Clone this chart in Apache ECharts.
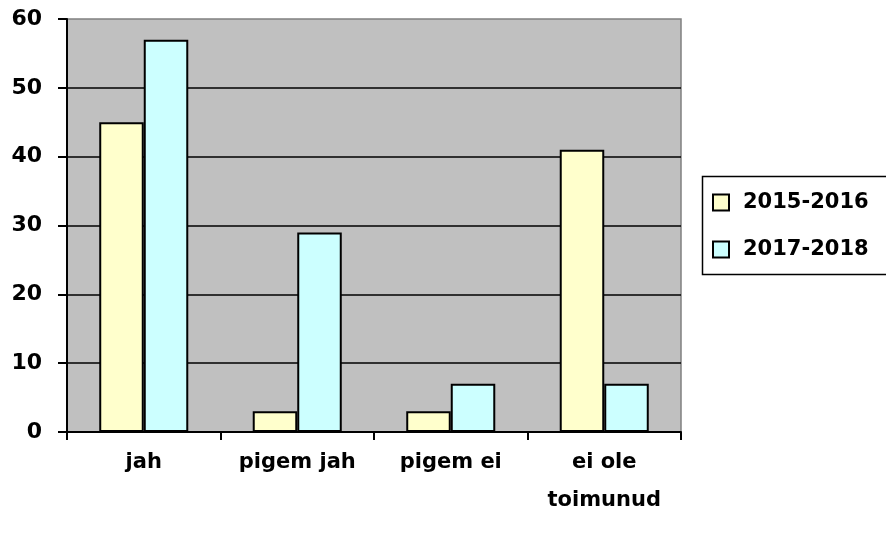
<!DOCTYPE html>
<html>
<head>
<meta charset="utf-8">
<script src="https://cdn.jsdelivr.net/npm/echarts@6/dist/echarts.min.js"></script>
<style>
  html, body { margin: 0; padding: 0; background: #ffffff; }
  #main { width: 886px; height: 537px; }
</style>
</head>
<body>
<div id="main"></div>
<script>
var categories = ['jah', 'pigem jah', 'pigem ei', 'ei ole\ntoimunud'];
var seriesNames = ['2015-2016', '2017-2018'];
var values2015 = [45, 3, 3, 41];
var values2017 = [57, 29, 7, 7];
var yTicks = [0, 10, 20, 30, 40, 50, 60];

var chart = echarts.init(document.getElementById('main'));
var font = '"DejaVu Sans", sans-serif';

chart.setOption({
  backgroundColor: '#ffffff',
  animation: false,
  grid: {
    left: 67,
    right: 205,
    top: 19,
    bottom: 105,
    show: true,
    backgroundColor: '#C0C0C0',
    borderColor: '#808080',
    borderWidth: 1.5
  },
  legend: {
    orient: 'vertical',
    left: 707,
    top: 187,
    itemWidth: 16,
    itemHeight: 16,
    itemGap: 26,
    icon: 'rect',
    textStyle: {
      fontFamily: font,
      fontWeight: 'bold',
      fontSize: 21,
      color: '#000',
      padding: [0, 0, 0, 9]
    },
    data: seriesNames
  },
  graphic: [{
    type: 'rect',
    shape: { x: 702.5, y: 176.5, width: 190, height: 98 },
    style: { fill: 'none', stroke: '#000', lineWidth: 1.5 }
  }],
  xAxis: {
    type: 'category',
    data: categories,
    axisLine: { lineStyle: { color: '#000', width: 2 } },
    axisTick: { show: true, length: 8, lineStyle: { color: '#000', width: 2 } },
    axisLabel: {
      margin: 12,
      fontFamily: font,
      fontWeight: 'bold',
      fontSize: 21,
      color: '#000',
      lineHeight: 38
    }
  },
  yAxis: {
    type: 'value',
    min: 0,
    max: 60,
    interval: 10,
    axisLine: { show: true, lineStyle: { color: '#000', width: 2 } },
    axisTick: { show: true, length: 9, lineStyle: { color: '#000', width: 2 } },
    splitLine: { showMaxLine: false, lineStyle: { color: '#000', width: 1.5 } },
    axisLabel: {
      margin: 25,
      fontFamily: font,
      fontWeight: 'bold',
      fontSize: 22,
      color: '#000',
      formatter: function (v) { return yTicks.indexOf(v) >= 0 ? String(v) : ''; }
    }
  },
  series: [{
    name: seriesNames[0],
    type: 'bar',
    data: values2015,
    barGap: '0%',
    barCategoryGap: '42%',
    itemStyle: { color: '#FFFFCC', borderColor: '#000', borderWidth: 2 }
  }, {
    name: seriesNames[1],
    type: 'bar',
    data: values2017,
    itemStyle: { color: '#CCFFFF', borderColor: '#000', borderWidth: 2 }
  }]
});
</script>
</body>
</html>
